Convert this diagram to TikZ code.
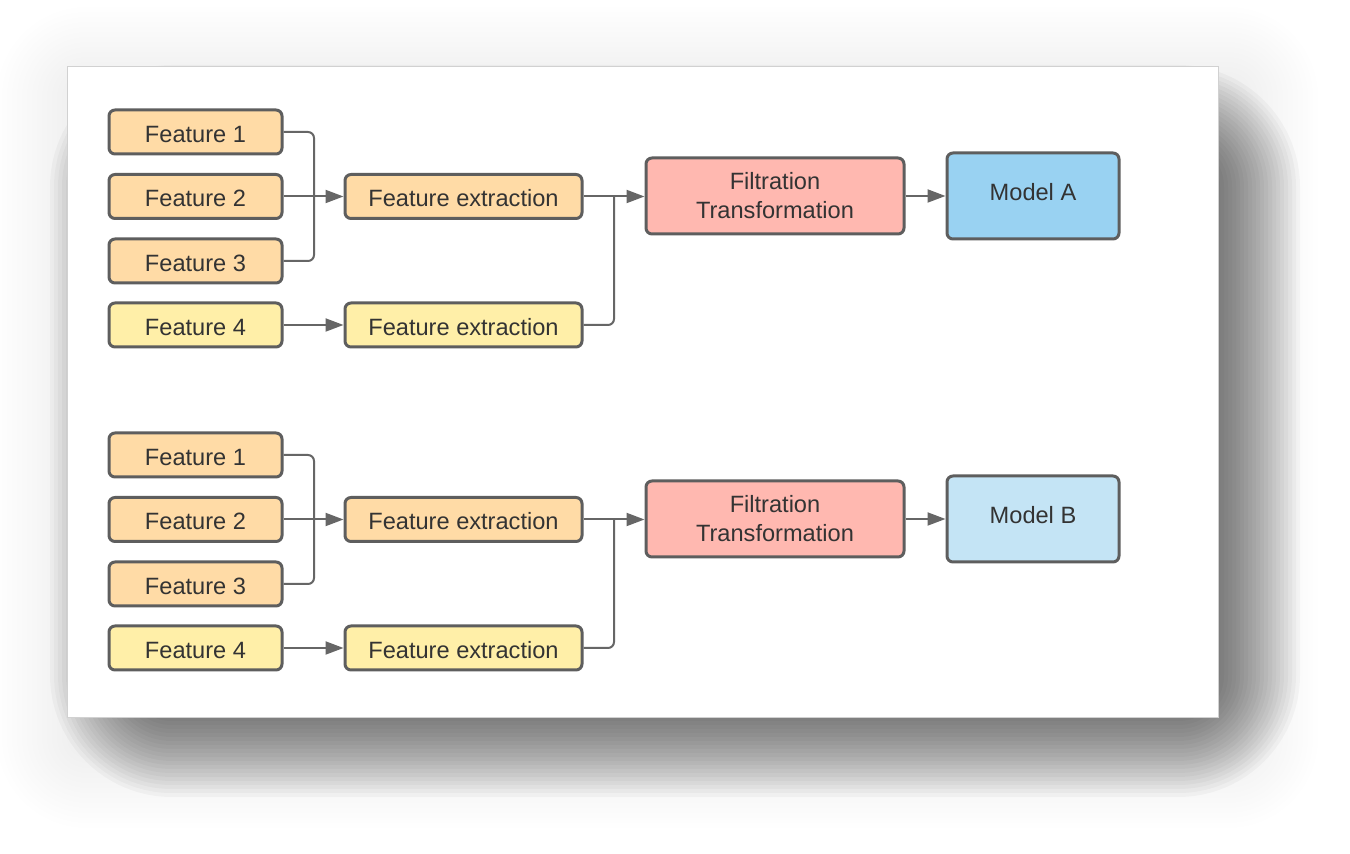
\documentclass[tikz,border=0pt]{standalone}
\usepackage{fontspec}
\setmainfont{Liberation Sans}
\usetikzlibrary{arrows.meta}
\definecolor{bordc}{HTML}{5E5E5E}
\definecolor{linec}{HTML}{666666}
\definecolor{txtc}{HTML}{333333}
\definecolor{orangef}{HTML}{FFDBA6}
\definecolor{yellowf}{HTML}{FFEFA8}
\definecolor{redf}{HTML}{FFB8B0}
\definecolor{bluea}{HTML}{99D2F2}
\definecolor{blueb}{HTML}{C4E4F5}
\tikzset{
  box/.style={draw=bordc, line width=1.5pt, rounded corners=3pt, text=txtc,
    font=\fontsize{11.8pt}{14.5pt}\selectfont, align=center, inner sep=0pt},
  feat/.style={box, minimum width=86.5pt, minimum height=22pt, text height=10.5pt, text depth=0pt},
  fext/.style={box, minimum width=118.5pt, minimum height=22pt, text height=10.5pt, text depth=0pt},
  filt/.style={box, fill=redf, minimum width=129pt, minimum height=38pt},
  model/.style={box, minimum width=86pt, minimum height=43pt, text height=8.45pt, text depth=4pt},
  conn/.style={draw=linec, line width=1pt, rounded corners=3pt},
  arr/.style={conn, -{Triangle[length=9pt, width=6.5pt]}},
}
\begin{document}
\begin{tikzpicture}[x=0.5pt, y=-0.5pt]
\useasboundingbox (0,0) rectangle (1350,854);
% faint wide halo
\foreach \d in {0,5,...,80}{
  \fill[black, opacity=0.005, rounded corners={(\d+10)*0.5pt}]
    ({77-\d},{87-\d}) rectangle ({1238+\d},{748+\d});
}
% strong offset shadow
\foreach \d in {-60,-56,...,60}{
  \pgfmathsetmacro{\r}{max(1,(\d+62)*0.5)}
  \fill[black, opacity=0.03, rounded corners=\r pt]
    ({110-\d},{125-\d}) rectangle ({1240+\d},{737+\d});
}
% panel
\fill[white, draw=black!18, line width=0.5pt] (67,67) rectangle (1218,718);
% ---------- group A ----------
\node[feat, fill=orangef] (a1) at (195.5,132) {Feature 1};
\node[feat, fill=orangef] (a2) at (195.5,196.5) {Feature 2};
\node[feat, fill=orangef] (a3) at (195.5,261) {Feature 3};
\node[feat, fill=yellowf] (a4) at (195.5,325) {Feature 4};
\node[fext, fill=orangef] (ae1) at (463.5,196.5) {Feature extraction};
\node[fext, fill=yellowf] (ae2) at (463.5,325) {Feature extraction};
\node[filt] (af) at (775,196) {Filtration\\Transformation};
\node[model, fill=bluea] (am) at (1033,196) {Model A};
\coordinate (ajA) at (314,196.5);
\coordinate (ajB) at (614,196.5);
\draw[conn] (a1.east) -| (ajA);
\draw[conn] (a3.east) -| (ajA);
\draw[arr] (a2.east) -- (ae1.west);
\draw[arr] (a4.east) -- (ae2.west);
\draw[conn] (ae2.east) -| (ajB);
\draw[arr] (ae1.east) -- (af.west |- ajB);
\draw[arr] (af.east) -- (am.west |- af.east);
% ---------- group B ----------
\node[feat, fill=orangef] (b1) at (195.5,455) {Feature 1};
\node[feat, fill=orangef] (b2) at (195.5,519.5) {Feature 2};
\node[feat, fill=orangef] (b3) at (195.5,584) {Feature 3};
\node[feat, fill=yellowf] (b4) at (195.5,648) {Feature 4};
\node[fext, fill=orangef] (be1) at (463.5,519.5) {Feature extraction};
\node[fext, fill=yellowf] (be2) at (463.5,648) {Feature extraction};
\node[filt] (bf) at (775,519) {Filtration\\Transformation};
\node[model, fill=blueb] (bm) at (1033,519) {Model B};
\coordinate (bjA) at (314,519.5);
\coordinate (bjB) at (614,519.5);
\draw[conn] (b1.east) -| (bjA);
\draw[conn] (b3.east) -| (bjA);
\draw[arr] (b2.east) -- (be1.west);
\draw[arr] (b4.east) -- (be2.west);
\draw[conn] (be2.east) -| (bjB);
\draw[arr] (be1.east) -- (bf.west |- bjB);
\draw[arr] (bf.east) -- (bm.west |- bf.east);
\end{tikzpicture}
\end{document}
